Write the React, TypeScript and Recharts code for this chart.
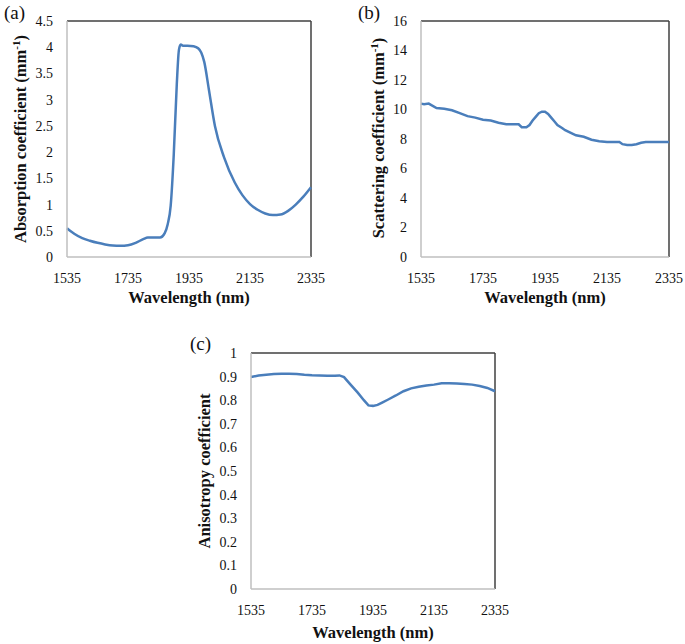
import { LineChart, Line, XAxis, YAxis, ReferenceLine, Label } from 'recharts';

// Wavelength ticks shared by the three panels
const wavelengthTicks = [1535, 1735, 1935, 2135, 2335];

// (a) absorption coefficient
const absWavelength = [1535, 1560, 1585, 1610, 1635, 1660, 1685, 1710, 1735, 1760, 1785, 1800, 1820, 1840, 1855, 1865, 1875, 1885, 1895, 1902, 1908, 1915, 1930, 1950, 1965, 1975, 1985, 2000, 2020, 2050, 2085, 2110, 2135, 2160, 2185, 2210, 2235, 2260, 2285, 2310, 2335];
const absValues = [0.55, 0.44, 0.36, 0.31, 0.27, 0.24, 0.22, 0.215, 0.225, 0.27, 0.34, 0.37, 0.37, 0.37, 0.45, 0.62, 0.98, 1.95, 3.3, 3.95, 4.05, 4.03, 4.03, 4.02, 3.98, 3.9, 3.72, 3.2, 2.5, 1.9, 1.42, 1.18, 1.01, 0.9, 0.83, 0.8, 0.81, 0.88, 1.0, 1.15, 1.33];
const absTicks = [0, 0.5, 1, 1.5, 2, 2.5, 3, 3.5, 4, 4.5];

// (b) scattering coefficient
const scatWavelength = [1535, 1545, 1560, 1585, 1610, 1635, 1660, 1685, 1710, 1735, 1760, 1785, 1810, 1835, 1850, 1860, 1875, 1885, 1895, 1905, 1915, 1925, 1935, 1945, 1955, 1965, 1975, 1990, 2000, 2020, 2035, 2060, 2085, 2110, 2135, 2160, 2175, 2185, 2200, 2215, 2230, 2245, 2260, 2285, 2310, 2335];
const scatValues = [10.4, 10.35, 10.4, 10.1, 10.05, 9.95, 9.75, 9.55, 9.45, 9.3, 9.25, 9.1, 9.0, 9.0, 9.0, 8.8, 8.8, 8.95, 9.25, 9.5, 9.75, 9.85, 9.85, 9.7, 9.45, 9.2, 8.95, 8.75, 8.6, 8.4, 8.25, 8.15, 7.95, 7.85, 7.8, 7.8, 7.8, 7.65, 7.6, 7.6, 7.65, 7.75, 7.8, 7.8, 7.8, 7.8];
const scatTicks = [0, 2, 4, 6, 8, 10, 12, 14, 16];

// (c) anisotropy coefficient
const anisoWavelength = [1535, 1560, 1585, 1610, 1635, 1660, 1685, 1710, 1735, 1760, 1785, 1810, 1825, 1840, 1860, 1885, 1905, 1920, 1935, 1950, 1965, 1985, 2010, 2035, 2060, 2085, 2110, 2135, 2160, 2185, 2210, 2235, 2260, 2285, 2310, 2335];
const anisoValues = [0.898, 0.905, 0.908, 0.911, 0.912, 0.912, 0.911, 0.908, 0.906, 0.905, 0.904, 0.904, 0.905, 0.898, 0.868, 0.832, 0.8, 0.778, 0.776, 0.78, 0.79, 0.803, 0.82, 0.838, 0.85, 0.857, 0.862, 0.866, 0.872, 0.872, 0.871, 0.869, 0.866, 0.86, 0.852, 0.838];
const anisoTicks = [0, 0.1, 0.2, 0.3, 0.4, 0.5, 0.6, 0.7, 0.8, 0.9, 1];

const absData = absWavelength.map((w, i) => ({ w, v: absValues[i] }));
const scatData = scatWavelength.map((w, i) => ({ w, v: scatValues[i] }));
const anisoData = anisoWavelength.map((w, i) => ({ w, v: anisoValues[i] }));

const FONT = "'Liberation Serif', 'Times New Roman', serif";
const LINE = '#4a7ebb';
const textStyle = { fontFamily: FONT };

// tick renderers so the serif font is set through style
const xTick = (props: any) => (
  <text x={props.x} y={props.y} dy="0.71em" textAnchor="middle" fontSize={14} fill="#111" style={textStyle}>
    {props.payload.value}
  </text>
);
const yTick = (props: any) => (
  <text x={props.x} y={props.y} dy="0.355em" textAnchor="end" fontSize={14} fill="#111" style={textStyle}>
    {props.payload.value}
  </text>
);

const xTitle = (x: number, y: number) => () => (
  <text x={x} y={y} textAnchor="middle" fontSize={16.5} fontWeight="bold" fill="#111" style={textStyle}>
    Wavelength (nm)
  </text>
);

const yTitle = (text: string, sup: boolean, x: number, y: number) => () => (
  <text x={x} y={y} transform={`rotate(-90, ${x}, ${y})`} textAnchor="middle" fontSize={16.5} fontWeight="bold" fill="#111" style={textStyle}>
    {text}
    {sup && (
      <>
        <tspan dy={-6} fontSize={11}>-1</tspan>
        <tspan dy={6}>)</tspan>
      </>
    )}
  </text>
);

type PanelProps = {
  data: { w: number; v: number }[];
  ticks: number[];
  yMax: number;
  title: string;
  sup: boolean;
  yTitlePos: [number, number];
  xTitlePos: [number, number];
  width: number;
  height: number;
  margin: { top: number; right: number; bottom: number; left: number };
  smooth?: boolean;
};

const Panel = ({ data, ticks, yMax, title, sup, yTitlePos, xTitlePos, width, height, margin, smooth }: PanelProps) => (
  <LineChart width={width} height={height} data={data} margin={margin}>
    <XAxis
      dataKey="w"
      type="number"
      domain={[1535, 2335]}
      ticks={wavelengthTicks}
      tickLine={false}
      tickMargin={10}
      height={50}
      axisLine={{ stroke: '#bfbfbf', strokeWidth: 1.5 }}
      tick={xTick}
      interval={0}
    >
      <Label content={xTitle(xTitlePos[0], xTitlePos[1])} />
    </XAxis>
    <YAxis
      type="number"
      domain={[0, yMax]}
      ticks={ticks}
      tickLine={false}
      tickMargin={8}
      width={50}
      axisLine={{ stroke: '#bfbfbf', strokeWidth: 1.5 }}
      tick={yTick}
      interval={0}
    >
      <Label content={yTitle(title, sup, yTitlePos[0], yTitlePos[1])} />
    </YAxis>
    <ReferenceLine y={yMax} stroke="#404040" strokeWidth={1.5} />
    <ReferenceLine x={2335} stroke="#404040" strokeWidth={1.5} />
    <Line
      type={smooth ? 'monotone' : 'linear'}
      dataKey="v"
      stroke={LINE}
      strokeWidth={2.5}
      dot={false}
      isAnimationActive={false}
    />
  </LineChart>
);

const panelLabel = { position: 'absolute' as const, fontFamily: FONT, fontSize: 19, color: '#111', lineHeight: '22px' };

export default function App() {
  return (
    <div style={{ position: 'absolute', left: 0, top: 0, width: 685, height: 644, background: '#fff', fontFamily: FONT }}>
      <div style={{ position: 'absolute', left: 0, top: 0 }}>
        <Panel data={absData} ticks={absTicks} yMax={4.5} title="Absorption coefficient (mm" sup
          yTitlePos={[26, 139]} xTitlePos={[189, 303]}
          width={340} height={310} margin={{ top: 21, right: 29, bottom: 3, left: 17 }} smooth />
      </div>
      <div style={{ position: 'absolute', left: 340, top: 0 }}>
        <Panel data={scatData} ticks={scatTicks} yMax={16} title="Scattering coefficient (mm" sup
          yTitlePos={[44, 138]} xTitlePos={[205, 303]}
          width={345} height={310} margin={{ top: 21, right: 16, bottom: 3, left: 31 }} />
      </div>
      <div style={{ position: 'absolute', left: 180, top: 320 }}>
        <Panel data={anisoData} ticks={anisoTicks} yMax={1} title="Anisotropy coefficient" sup={false}
          yTitlePos={[30, 151]} xTitlePos={[193, 318]}
          width={340} height={324} margin={{ top: 33, right: 25, bottom: 5, left: 21 }} />
      </div>
      <div style={{ ...panelLabel, left: 4, top: 2 }}>(a)</div>
      <div style={{ ...panelLabel, left: 358, top: 2 }}>(b)</div>
      <div style={{ ...panelLabel, left: 190, top: 333 }}>(c)</div>
    </div>
  );
}
